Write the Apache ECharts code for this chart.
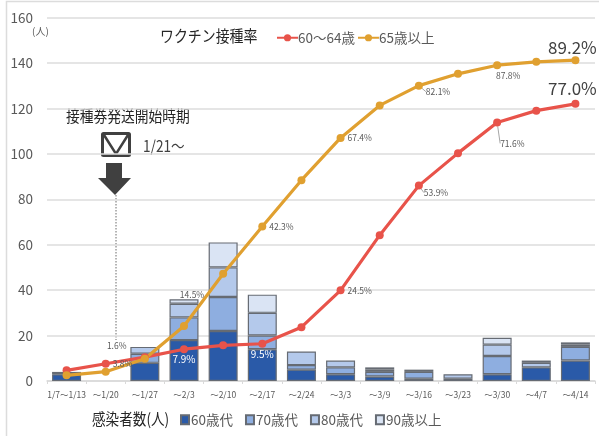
<!DOCTYPE html>
<html>
<head>
<meta charset="utf-8">
<title>ワクチン接種率と感染者数</title>
<script src="https://cdn.jsdelivr.net/npm/echarts@6/dist/echarts.min.js"></script>
<style>
html, body { margin: 0; padding: 0; background: #fff; }
#container { width: 599px; height: 436px; }
</style>
</head>
<body>
<div id="container"></div>
<script>
var weeks = ['1/7〜1/13', '〜1/20', '〜1/27', '〜2/3', '〜2/10', '〜2/17', '〜2/24', '〜3/3', '〜3/9', '〜3/16', '〜3/23', '〜3/30', '〜4/7', '〜4/14'];
var age60 = [3, null, 8, 18, 22, 14, 5, 3, 2, 1, null, 3, 6, 9];
var age70 = [null, null, 4, 10, 15, 6, 2, 3, 2, 3, 1, 8, null, 6];
var age80 = [1, null, 3, 6, 13, 10, 6, 3, 1, 1, 2, 5, 2, 1];
var age90 = [null, null, null, 2, 11, 8, null, null, 1, null, null, 3, 1, 1];
var rate6064 = [4.7, 7.6, 10.5, 14, 15.7, 16.4, 23.7, 39.9, 64.2, 86, 100.3, 113.8, 119, 122];
var rate65 = [2.5, 4.1, 9.8, 24.2, 47.2, 68, 88.4, 107, 121.3, 130, 135.2, 139, 140.5, 141.2];
var labels6064 = [null, '3.8%', null, '7.9%', null, '9.5%', null, '24.5%', null, '53.9%', null, '71.6%', null, '77.0%'];
var labels65 = [null, '1.6%', null, '14.5%', null, '42.3%', null, '67.4%', null, '82.1%', null, '87.8%', null, '89.2%'];

var font = '"Noto Sans CJK JP", sans-serif';
var grey = '#595959';

// label placement per point, index = week
var small = { show: true, fontSize: 8.5, color: grey, fontFamily: font };
var style6064 = {
	1: { position: 'right', distance: 3 },
	3: { position: 'bottom', distance: 1, color: '#fff', fontSize: 10 },
	5: { position: 'bottom', distance: 1, color: '#fff', fontSize: 10 },
	7: { position: 'right', distance: 3 },
	9: { position: 'right', distance: 3 },
	11: { position: 'right', distance: 3 },
	13: { position: 'top', distance: 5, fontSize: 17, color: '#404040' }
};
var style65 = {
	1: { position: 'top', distance: 12 },
	3: { position: 'top', distance: 24 },
	5: { position: 'right', distance: 3 },
	7: { position: 'right', distance: 3 },
	9: { position: 'right', distance: 3 },
	11: { position: 'bottom', distance: 3 },
	13: { position: 'top', distance: 4, fontSize: 17, color: '#404040' }
};
// extra label shift, zoomed by eye against the reference
var moved6064 = { 9: [-2, 7], 11: [-4, 21], 13: [-3, 2] };
var moved65 = { 1: [11, -6], 3: [8, 1], 9: [0, 6], 11: [11, -1], 13: [-3, 4] };
// these labels carry a leader line back to the point
var leader6064 = [9, 11];
var leader65 = [9];

function lineData(values, labels, styles, leaders) {
	return values.map(function (v, i) {
		if (!labels[i]) return v;
		return {
			value: v,
			label: Object.assign({}, small, styles[i], { formatter: labels[i] }),
			labelLine: { show: leaders.indexOf(i) >= 0, lineStyle: { color: '#a6a6a6', width: 1 } }
		};
	});
}

function barSeries(name, data, color) {
	return {
		name: name, type: 'bar', stack: 'cases', data: data, barWidth: 29,
		itemStyle: { color: color, borderColor: '#666b73', borderWidth: 1.2 }
	};
}

function lineSeries(name, data, color, moved) {
	return {
		name: name, type: 'line', data: data, z: 5, symbol: 'circle', symbolSize: 8,
		lineStyle: { color: color, width: 3.2 }, itemStyle: { color: color },
		labelLayout: function (params) {
			var m = moved[params.dataIndex];
			return m ? { dx: m[0], dy: m[1] } : {};
		}
	};
}

var myChart = echarts.init(document.getElementById('container'));
var option = {
	animation: false,
	textStyle: { fontFamily: font },
	grid: { left: 47, top: 17.5, width: 548, height: 363.5 },
	legend: [{
		data: ['60〜64歳', '65歳以上'], left: 271, top: 26, itemWidth: 21, itemHeight: 9, itemGap: 2, padding: 5,
		textStyle: { fontSize: 13.5, color: grey, fontFamily: font, padding: [0, 0, 0, -5] }
	}, {
		data: ['60歳代', '70歳代', '80歳代', '90歳以上'], left: 175, top: 408, icon: 'rect', padding: 5,
		itemWidth: 8, itemHeight: 9, itemGap: 12,
		textStyle: { fontSize: 13.5, color: grey, fontFamily: font, padding: [0, 0, 0, -3] }
	}],
	xAxis: {
		type: 'category', data: weeks,
		axisLine: { lineStyle: { color: '#d9d9d9', width: 1.5 } },
		axisTick: { show: true, alignWithLabel: false, length: 3, lineStyle: { color: '#d9d9d9' } },
		axisLabel: { interval: 0, fontSize: 8.5, color: grey, margin: 10, fontFamily: font }
	},
	yAxis: {
		type: 'value', min: 0, max: 160, interval: 20,
		axisLine: { show: false }, axisTick: { show: false },
		splitLine: { lineStyle: { color: '#dcdcdc', width: 1.5 } },
		axisLabel: { fontSize: 13.5, color: grey, margin: 14, fontFamily: font }
	},
	series: [
		barSeries('60歳代', age60, '#2a5aa8'),
		barSeries('70歳代', age70, '#8eaee0'),
		barSeries('80歳代', age80, '#b4c9eb'),
		barSeries('90歳以上', age90, '#dae4f4'),
		lineSeries('60〜64歳', lineData(rate6064, labels6064, style6064, leader6064), '#e8534a', moved6064),
		lineSeries('65歳以上', lineData(rate65, labels65, style65, leader65), '#e0a030', moved65)
	],
	graphic: [
		{ type: 'rect', shape: { x: 6.5, y: 1.5, width: 700, height: 500 }, style: { fill: 'none', stroke: '#dcdcdc', lineWidth: 1.5 } },
		{ type: 'rect', shape: { x: 59, y: 100, width: 151, height: 28 }, style: { fill: '#fff' } },
		{ type: 'rect', shape: { x: 132, y: 140, width: 68, height: 24 }, style: { fill: '#fff' } },
		{ type: 'text', x: 32, y: 26, style: { text: '(人)', fontSize: 10, fill: grey, fontFamily: font } },
		{ type: 'text', x: 160, y: 28, scaleX: 0.87, style: { text: 'ワクチン接種率', fontSize: 16, fill: '#262626', fontFamily: font } },
		{ type: 'text', x: 66, y: 108, scaleX: 0.86, style: { text: '接種券発送開始時期', fontSize: 16, fill: '#262626', fontFamily: font } },
		{ type: 'text', x: 143, y: 138, scaleX: 0.85, style: { text: '1/21〜', fontSize: 16, fill: '#404040', fontFamily: font } },
		{ type: 'text', x: 92, y: 411, scaleX: 0.85, style: { text: '感染者数(人)', fontSize: 16, fill: '#262626', fontFamily: font } },
		// envelope
		{ type: 'rect', shape: { x: 102.5, y: 133.5, width: 27, height: 22, r: 1 }, style: { fill: '#fff', stroke: '#404040', lineWidth: 3 } },
		{ type: 'polyline', shape: { points: [[104, 135], [116, 154], [128, 135]] }, style: { fill: 'none', stroke: '#404040', lineWidth: 2.5 } },
		// arrow
		{ type: 'polygon', shape: { points: [[106, 163], [122, 163], [122, 178], [131, 178], [115, 195], [98, 178], [106, 178]] }, style: { fill: '#404040' } },
		{ type: 'line', shape: { x1: 116, y1: 195, x2: 116, y2: 340 }, style: { stroke: '#6a6a6a', lineWidth: 1, lineDash: [1.5, 1.5] } }
	]
};
myChart.setOption(option);
</script>
</body>
</html>
